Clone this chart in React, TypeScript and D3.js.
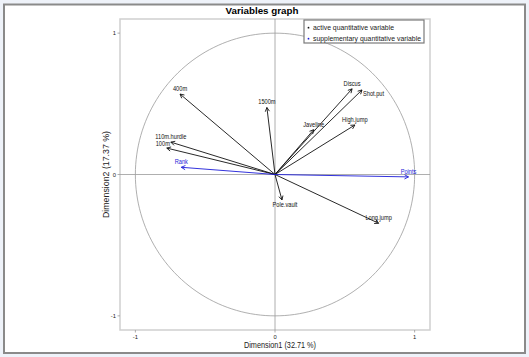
import React from "react";
import * as d3 from "d3";

// ---- data ----
const activeNames = ["100m", "Long.jump", "Shot.put", "High.jump", "400m", "110m.hurdle", "Discus", "Pole.vault", "Javeline", "1500m"];
const activeDim1 = [-0.775, 0.742, 0.623, 0.572, -0.680, -0.746, 0.552, 0.050, 0.277, -0.058];
const activeDim2 = [0.187, -0.345, 0.598, 0.350, 0.569, 0.229, 0.606, -0.180, 0.317, 0.474];
const activePlacement = ["topleft", "top", "right", "top", "top", "top", "top", "bottom", "top", "top"];

const supNames = ["Rank", "Points"];
const supDim1 = [-0.671, 0.956];
const supDim2 = [0.051, -0.017];
const supPlacement = ["top", "top"];

const xTicks = [-1, 0, 1];
const yTicks = [-1, 0, 1];
const legendLabels = ["active  quantitative variable", "supplementary  quantitative variable"];
const title = "Variables graph";
const xTitle = "Dimension1 (32.71 %)";
const yTitle = "Dimension2 (17.37 %)";

const W = 529, H = 357;
const FONT = "'Liberation Sans', Arial, sans-serif";
const BLUE = "#1c1cd8";

export default function App() {
  const x = d3.scaleLinear().domain([-1.11, 1.11]).range([120, 430]);
  const y = d3.scaleLinear().domain([-1.1, 1.1]).range([330, 19]);
  const x0 = x(0), y0 = y(0);

  const circle = d3.range(0, 361, 2).map((a) => [Math.cos((a * Math.PI) / 180), Math.sin((a * Math.PI) / 180)]);
  const circlePath = d3.line<number[]>().x((d) => x(d[0])).y((d) => y(d[1]))(circle) || "";

  const arrow = (dx: number, dy: number, color: string, key: string) => {
    const tx = x(dx), ty = y(dy);
    const ang = Math.atan2(ty - y0, tx - x0);
    const len = 4.5, spread = (28 * Math.PI) / 180;
    const a1 = ang + Math.PI - spread, a2 = ang + Math.PI + spread;
    return (
      <g key={key} stroke={color} strokeWidth={0.9} fill="none">
        <line x1={x0} y1={y0} x2={tx} y2={ty} />
        <path d={`M${tx + len * Math.cos(a1)},${ty + len * Math.sin(a1)}L${tx},${ty}L${tx + len * Math.cos(a2)},${ty + len * Math.sin(a2)}`} />
      </g>
    );
  };

  const label = (name: string, dx: number, dy: number, place: string, color: string, key: string) => {
    const tx = x(dx), ty = y(dy);
    let lx = tx, ly = ty - 3, anchor = "middle";
    if (place === "topleft") { lx = tx - 4; ly = ty - 2; }
    if (place === "bottom") { lx = tx + 3; ly = ty + 7; }
    if (place === "right") { lx = tx + 1; ly = ty + 6; anchor = "start"; }
    return (
      <text key={key} transform={`translate(${lx},${ly}) scale(0.86,1)`} textAnchor={anchor} fontSize={6.6} fill={color} fontFamily={FONT}>
        {name}
      </text>
    );
  };

  return (
    <svg width={W} height={H} style={{ position: "absolute", left: 0, top: 0 }}>
      <rect x={0} y={0} width={W} height={H} fill="#eef2f9" />
      <rect x={4} y={4.5} width={521} height={348.5} fill="#ffffff" stroke="#8a8a8a" strokeWidth={2} />

      <text x={262} y={13.5} textAnchor="middle" fontSize={9.8} fontWeight="bold" fontFamily={FONT} textLength={73} lengthAdjust="spacingAndGlyphs">
        {title}
      </text>

      {/* plot box */}
      <rect x={x(-1.11)} y={y(1.1)} width={x(1.11) - x(-1.11)} height={y(-1.1) - y(1.1)} fill="none" stroke="#cfcfcf" strokeWidth={1.5} />

      {/* axes through origin */}
      <line x1={x(-1.11)} x2={x(1.11)} y1={y0} y2={y0} stroke="#9a9a9a" strokeWidth={0.8} />
      <line x1={x0} x2={x0} y1={y(1.1)} y2={y(-1.1)} stroke="#9a9a9a" strokeWidth={0.8} />

      {/* unit circle */}
      <path d={circlePath} fill="none" stroke="#9a9a9a" strokeWidth={0.8} />

      {activeNames.map((n, i) => arrow(activeDim1[i], activeDim2[i], "#111", "a" + n))}
      {supNames.map((n, i) => arrow(supDim1[i], supDim2[i], BLUE, "s" + n))}
      {activeNames.map((n, i) => label(n, activeDim1[i], activeDim2[i], activePlacement[i], "#111", "la" + n))}
      {supNames.map((n, i) => label(n, supDim1[i], supDim2[i], supPlacement[i], BLUE, "ls" + n))}

      {/* ticks */}
      {yTicks.map((t) => (
        <g key={"yt" + t}>
          <line x1={x(-1.11) - 2.5} x2={x(-1.11)} y1={y(t)} y2={y(t)} stroke="#999" strokeWidth={0.8} />
          <text x={x(-1.11) - 4} y={y(t) + 2} textAnchor="end" fontSize={5.8} fontFamily={FONT} fill="#222">{t}</text>
        </g>
      ))}
      {xTicks.map((t) => (
        <g key={"xt" + t}>
          <line x1={x(t)} x2={x(t)} y1={y(-1.1)} y2={y(-1.1) + 2.5} stroke="#999" strokeWidth={0.8} />
          <text x={x(t)} y={y(-1.1) + 8.5} textAnchor="middle" fontSize={5.8} fontFamily={FONT} fill="#222">{t}</text>
        </g>
      ))}

      {/* axis titles */}
      <text x={280} y={348} textAnchor="middle" fontSize={8.8} fontFamily={FONT} fill="#222" textLength={72} lengthAdjust="spacingAndGlyphs">
        {xTitle}
      </text>
      <text transform={`translate(109,${y0}) rotate(-90)`} textAnchor="middle" fontSize={8.8} fontFamily={FONT} fill="#222">
        {yTitle}
      </text>

      {/* legend */}
      <rect x={304} y={20} width={120} height={23} fill="#fff" stroke="#7a7a7a" strokeWidth={1.2} />
      {legendLabels.map((l, i) => (
        <g key={"lg" + i}>
          <circle cx={308.5} cy={27.7 + i * 11} r={0.9} fill={i === 0 ? "#111" : BLUE} />
          <text x={313} y={30 + i * 11} fontSize={6.6} fontFamily={FONT} fill="#222" textLength={i === 0 ? 81 : 108} lengthAdjust="spacingAndGlyphs">
            {l}
          </text>
        </g>
      ))}
    </svg>
  );
}
